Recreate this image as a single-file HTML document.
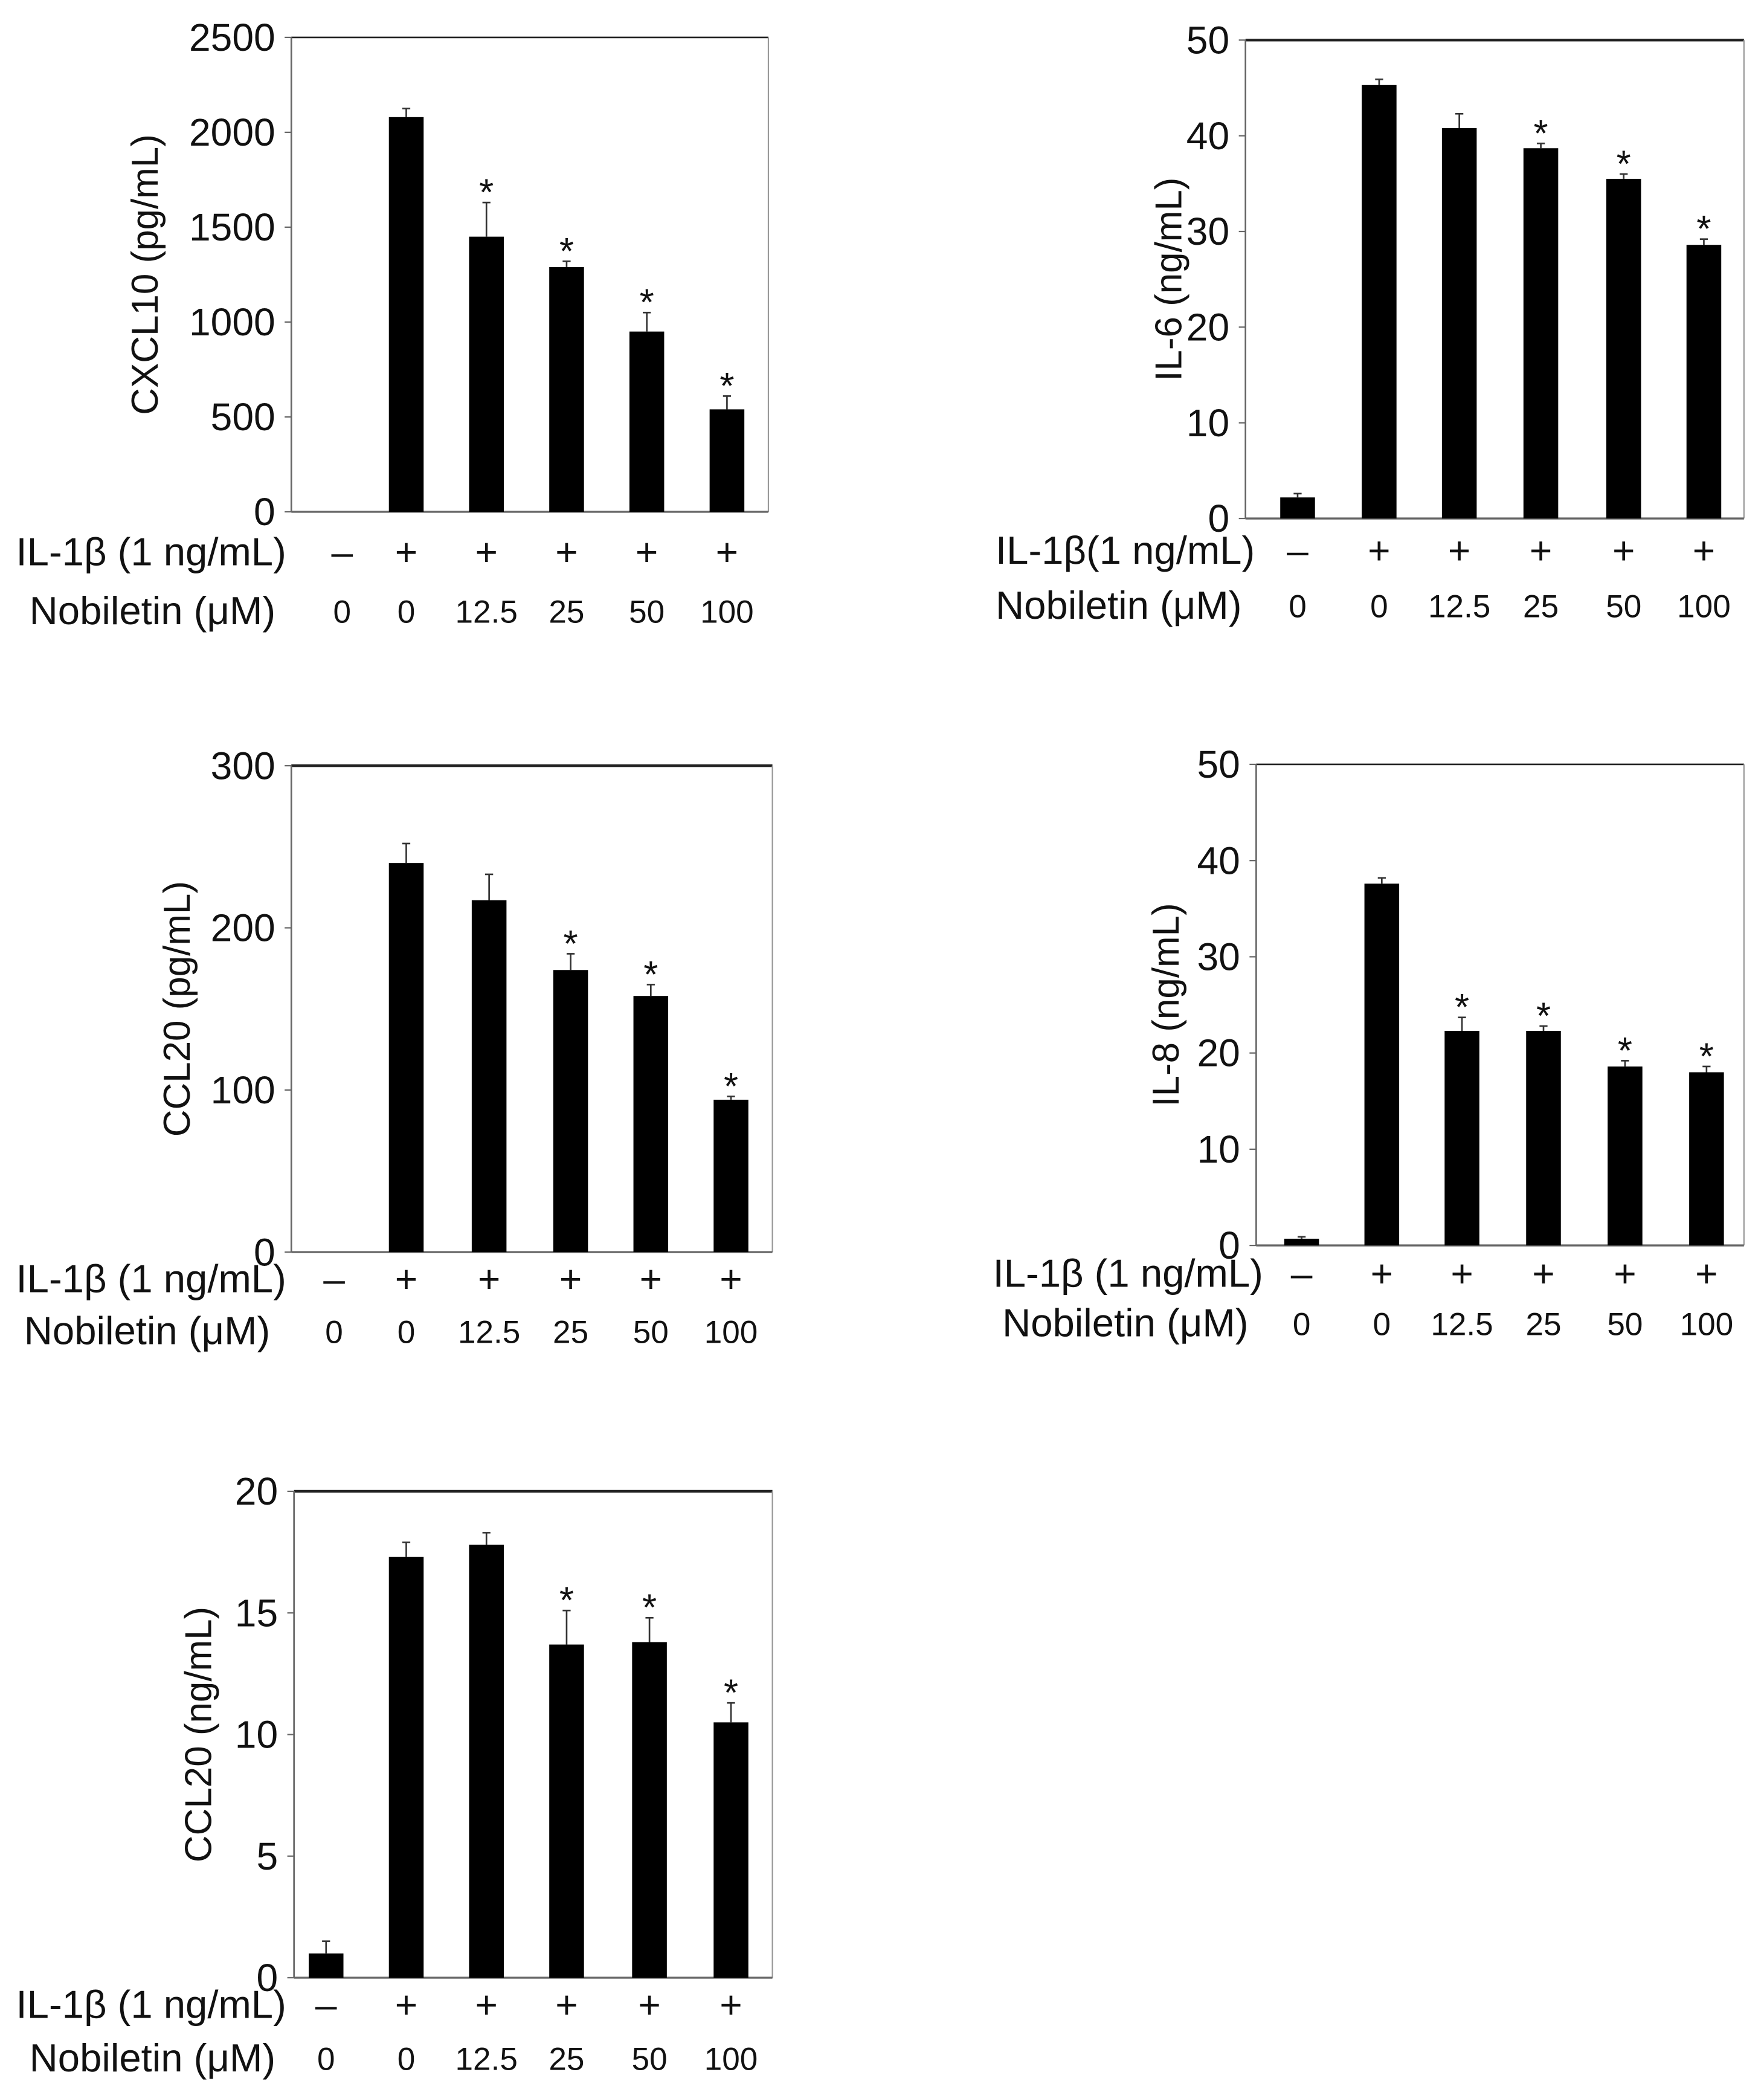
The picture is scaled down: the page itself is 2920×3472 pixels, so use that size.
<!DOCTYPE html>
<html><head><meta charset="utf-8">
<style>
html,body{margin:0;padding:0;background:#fff;}
svg{display:block;}
text{font-family:"Liberation Sans",Arial,sans-serif;fill:#111;}
</style></head>
<body>
<svg id="fig" width="2920" height="3472" viewBox="0 0 1320 1570" preserveAspectRatio="none" xmlns="http://www.w3.org/2000/svg"></svg>
<script>
// ---- data ----
const conditions = ["0","0","12.5","25","50","100"];
const il1bSigns = ["–","+","+","+","+","+"];
const cxcl10Values = [0, 2080, 1450, 1290, 950, 540];
const cxcl10Errors = [0, 45, 180, 30, 100, 70];
const cxcl10Stars = [false,false,true,true,true,true];
const cxcl10Ticks = [0,500,1000,1500,2000,2500];
const il6Values = [2.2, 45.3, 40.8, 38.7, 35.5, 28.6];
const il6Errors = [0.4, 0.6, 1.5, 0.5, 0.5, 0.6];
const il6Stars = [false,false,false,true,true,true];
const il6Ticks = [0,10,20,30,40,50];
const ccl20pgValues = [0, 240, 217, 174, 158, 94];
const ccl20pgErrors = [0, 12, 16, 10, 7, 2];
const ccl20pgStars = [false,false,false,true,true,true];
const ccl20pgTicks = [0,100,200,300];
const il8Values = [0.7, 37.6, 22.3, 22.3, 18.6, 18.0];
const il8Errors = [0.2, 0.6, 1.4, 0.5, 0.6, 0.6];
const il8Stars = [false,false,true,true,true,true];
const il8Ticks = [0,10,20,30,40,50];
const ccl20ngValues = [1.0, 17.3, 17.8, 13.7, 13.8, 10.5];
const ccl20ngErrors = [0.5, 0.6, 0.5, 1.4, 1.0, 0.8];
const ccl20ngStars = [false,false,false,true,true,true];
const ccl20ngTicks = [0,5,10,15,20];

const NS = "http://www.w3.org/2000/svg";
const svg = document.getElementById("fig");
function mk(tag, attrs, parent, txt){
  const e = document.createElementNS(NS, tag);
  for (const k in attrs) e.setAttribute(k, attrs[k]);
  if (txt !== undefined) e.textContent = txt;
  (parent||svg).appendChild(e);
  return e;
}

function panel(cfg){
  const g = mk("g", {});
  
  
  const {x0,x1,y0,y1,max,ticks,values,errors,stars,centers} = cfg;
  const ys = v => y1 - (v/max)*(y1-y0);
  mk("line",{x1:x0,y1:y0,x2:x1,y2:y0,stroke:"#222","stroke-width":cfg.topW||1.2},g);
  mk("line",{x1:x1,y1:y0,x2:x1,y2:y1,stroke:"#999","stroke-width":1},g);
  const ya = mk("line",{x1:x0,y1:y0,x2:x0,y2:y1,stroke:"#666","stroke-width":1.2},g);
  
  
  const xa = mk("line",{x1:x0,y1:y1,x2:x1,y2:y1,stroke:"#666","stroke-width":1.5},g);
  
  
  ticks.forEach(t=>{
    const y = ys(t);
    mk("line",{x1:x0-5,y1:y,x2:x0,y2:y,stroke:"#666","stroke-width":1},g);
    const tl = mk("text",{x:x0-12,y:y+10,"text-anchor":"end","font-size":29},g,String(t));
    
    
  });
  const yl = mk("text",{x:0,y:0,"text-anchor":"middle","font-size":28,transform:`translate(${cfg.ylx},${(y0+y1)/2}) rotate(-90)`},g,cfg.ylabel);
  
  
  const bw = 26;
  values.forEach((v,i)=>{
    const cx = centers[i];
    if (v>0){
      const top = ys(v);
      const b = mk("rect",{x:cx-bw/2,y:top,width:bw,height:y1-top,fill:"#000"},g);
      
      
      const et = ys(v+errors[i]);
      const eb = mk("line",{x1:cx,y1:top,x2:cx,y2:et,stroke:"#333","stroke-width":1.2},g);
      
      
      mk("line",{x1:cx-3,y1:et,x2:cx+3,y2:et,stroke:"#333","stroke-width":1.2},g);
      if (stars[i]){
        const s = mk("text",{x:cx,y:et+2,"text-anchor":"middle","font-size":28},g,"*");
        
        
      }
    }
    const sg = mk("text",{x:cx,y:cfg.r1+10,"text-anchor":"middle","font-size":29},g,il1bSigns[i]);
    
    
    const cl = mk("text",{x:cx,y:cfg.r2+9,"text-anchor":"middle","font-size":24},g,conditions[i]);
    
    
  });
  const l1 = mk("text",{x:cfg.lx1,y:cfg.r1+10,"font-size":29.5},g,cfg.il1bText);
  
  
  const l2 = mk("text",{x:cfg.lx2,y:cfg.r2+10,"font-size":29.5},g,"Nobiletin (μM)");
  
  
}

panel({name:"cxcl10-panel",x0:218,x1:575,y0:28,y1:383,max:2500,ticks:cxcl10Ticks,values:cxcl10Values,errors:cxcl10Errors,stars:cxcl10Stars,
  centers:[256,304,364,424,484,544],ylabel:"CXCL10 (pg/mL)",ylx:118,r1:413,r2:457,lx1:12,lx2:22,il1bText:"IL-1β (1 ng/mL)"});
panel({name:"il6-panel",x0:932,x1:1305,y0:30,y1:388,max:50,ticks:il6Ticks,values:il6Values,errors:il6Errors,stars:il6Stars,topW:2,
  centers:[971,1032,1092,1153,1215,1275],ylabel:"IL-6 (ng/mL)",ylx:884,r1:412,r2:453,lx1:745,lx2:745,il1bText:"IL-1β(1 ng/mL)"});
panel({name:"ccl20-pg-panel",x0:218,x1:578,y0:573,y1:937,max:300,ticks:ccl20pgTicks,values:ccl20pgValues,errors:ccl20pgErrors,stars:ccl20pgStars,topW:2,
  centers:[250,304,366,427,487,547],ylabel:"CCL20 (pg/mL)",ylx:142,r1:957,r2:996,lx1:12,lx2:18,il1bText:"IL-1β (1 ng/mL)"});
panel({name:"il8-panel",x0:940,x1:1305,y0:572,y1:932,max:50,ticks:il8Ticks,values:il8Values,errors:il8Errors,stars:il8Stars,
  centers:[974,1034,1094,1155,1216,1277],ylabel:"IL-8 (ng/mL)",ylx:882,r1:953,r2:990,lx1:743,lx2:750,il1bText:"IL-1β (1 ng/mL)"});
panel({name:"ccl20-ng-panel",x0:220,x1:578,y0:1116,y1:1480,max:20,ticks:ccl20ngTicks,values:ccl20ngValues,errors:ccl20ngErrors,stars:ccl20ngStars,topW:2,
  centers:[244,304,364,424,486,547],ylabel:"CCL20 (ng/mL)",ylx:158,r1:1500,r2:1540,lx1:12,lx2:22,il1bText:"IL-1β (1 ng/mL)"});
</script>
</body></html>
